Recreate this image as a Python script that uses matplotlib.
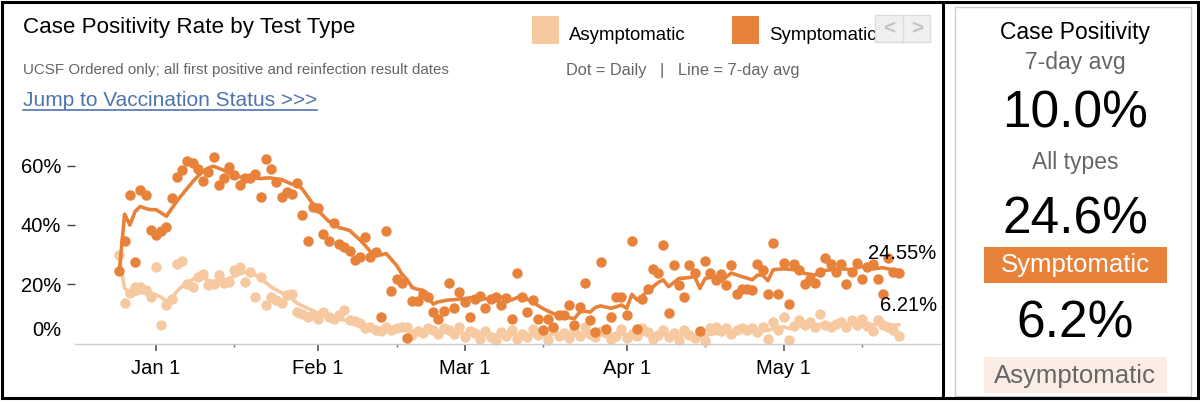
import matplotlib
matplotlib.use("Agg")
import matplotlib.pyplot as plt
import matplotlib.dates as mdates
from matplotlib.patches import Rectangle
from matplotlib.lines import Line2D
from matplotlib.ticker import FuncFormatter
import pandas as pd

plt.rcParams['font.family'] = ['Liberation Sans', 'DejaVu Sans']

# daily values, Dec 25 2021 .. May 23 2022
dates = pd.date_range("2021-12-25", periods=150, freq="D")

sym_daily = [24.3, 34.5, 50.1, 27.4, 51.6, 50.1, 38.3, 36.5, 37.8, 39.3,
             48.9, 56.2, 58.5, 61.5, 60.8, 58.8, 54.8, 57.9, 62.8, 53.4,
             55.7, 59.6, 56.8, 53.4, 55.7, 55.7, 57.0, 49.5, 62.2, 58.8,
             54.5, 49.5, 51.2, 50.3, 54.1, 43.3, 34.5, 46.1, 45.6, 36.8,
             34.5, 40.5, 33.4, 32.6, 31.1, 28.1, 29.2, 35.9, 29.2, 30.7,
             8.9, 37.8, 17.6, 21.6, 20.5, 1.8, 14.4, 14.1, 16.7, 15.5,
             10.7, 8.1, 11.0, 20.4, 11.8, 17.2, 13.8, 8.9, 14.9, 16.0,
             11.8, 14.9, 15.5, 12.9, 15.2, 8.3, 23.8, 15.5, 10.4, 14.6,
             8.3, 4.4, 8.3, 5.5, 9.5, 9.5, 12.9, 6.1, 12.1, 20.4,
             8.0, 3.9, 27.3, 4.7, 8.9, 15.5, 15.5, 9.5, 34.5, 4.7,
             14.9, 18.3, 25.1, 23.8, 33.2, 10.2, 26.4, 19.7, 15.5, 26.4,
             23.6, 4.0, 27.8, 23.8, 21.4, 23.3, 19.7, 26.4, 16.7, 18.3,
             18.3, 17.9, 26.6, 24.7, 16.5, 34.0, 16.5, 27.1, 13.4, 26.6,
             24.8, 20.0, 21.7, 20.5, 24.1, 28.7, 26.6, 24.0, 26.6, 20.0,
             24.0, 27.1, 21.8, 25.9, 26.6, 21.8, 16.6, 28.9, 24.2, 23.6]

sym_avg = [24.6, 43.6, 39.9, 44.5, 46.2, 45.5, 45.1, 45.1, 44.0, 42.9,
           45.5, 48.0, 50.2, 52.4, 54.5, 56.4, 58.0, 59.2, 59.8, 59.1,
           58.4, 57.5, 56.6, 56.2, 56.0, 55.8, 55.8, 55.6, 55.8, 55.8,
           55.5, 55.3, 54.5, 53.7, 53.7, 52.0, 49.5, 47.0, 44.8, 43.0,
           41.2, 40.5, 39.0, 38.6, 38.1, 36.5, 34.9, 33.0, 30.9, 30.2,
           29.8, 30.3, 28.3, 26.3, 23.4, 21.5, 18.8, 18.2, 17.9, 15.5,
           13.2, 14.0, 14.3, 14.6, 14.7, 14.9, 15.1, 15.3, 15.6, 15.3,
           15.0, 14.9, 15.3, 15.6, 15.0, 14.6, 15.4, 16.0, 14.8, 13.9,
           12.8, 11.7, 10.8, 10.0, 9.4, 8.9, 8.6, 8.3, 10.5, 10.8,
           10.5, 12.1, 12.6, 12.2, 11.8, 12.3, 12.9, 11.8, 16.5, 14.6,
           16.0, 17.6, 19.0, 20.5, 21.4, 19.1, 20.5, 21.9, 22.0, 22.2,
           22.5, 18.5, 21.9, 22.2, 22.5, 20.9, 22.3, 23.7, 23.1, 22.5,
           22.0, 21.4, 23.0, 23.0, 21.1, 24.8, 25.0, 25.1, 25.0, 24.8,
           24.2, 23.6, 23.3, 23.0, 24.3, 24.6, 24.8, 25.0, 25.1, 25.0,
           24.8, 25.4, 25.9, 25.5, 25.1, 25.3, 25.5, 25.1, 24.8, 24.55]

asym_daily = [29.8, 13.7, 16.8, 18.9, 18.9, 18.0, 15.7, 25.8, 6.3, 12.9,
              14.8, 26.9, 27.7, 19.9, 19.1, 22.5, 23.4, 19.7, 20.0, 23.0,
              20.2, 20.8, 24.7, 25.8, 20.8, 24.2, 15.7, 22.3, 12.9, 15.7,
              14.6, 13.7, 16.3, 16.7, 10.4, 9.9, 8.8, 9.5, 8.3, 10.5,
              8.8, 8.3, 9.5, 11.2, 7.9, 7.6, 6.9, 5.3, 5.5, 4.6,
              4.0, 5.5, 4.6, 5.1, 5.6, 5.6, 2.7, 4.0, 3.4, 5.1,
              4.6, 3.0, 5.2, 4.5, 3.1, 5.4, 2.2, 4.0, 3.5, 1.5,
              4.2, 2.0, 1.2, 3.8, 2.5, 4.4, 1.3, 3.0, 2.1, 4.7,
              2.8, 3.6, 1.0, 5.0, 2.4, 3.3, 1.8, 4.1, 2.6, 5.5,
              3.0, 2.1, 4.0, 3.5, 1.3, 2.6, 4.8, 1.9, 3.2, 2.4,
              5.0, 3.7, 1.5, 2.8, 4.3, 2.0, 3.4, 1.2, 4.6, 2.9,
              1.8, 3.6, 0.8, 5.0, 5.4, 4.0, 5.2, 3.0, 4.6, 5.2,
              4.3, 5.1, 3.9, 5.6, 1.3, 7.2, 4.5, 8.9, 1.0, 5.9,
              7.8, 6.0, 7.0, 5.4, 9.7, 6.0, 5.5, 6.5, 7.0, 5.5,
              7.8, 6.0, 8.1, 5.7, 4.2, 7.7, 6.2, 5.5, 4.4, 2.3]

asym_avg = [28.8, 18.6, 17.0, 16.5, 17.0, 17.5, 17.0, 16.4, 15.5, 14.2,
            15.3, 17.5, 19.2, 20.4, 21.5, 22.6, 22.0, 21.2, 20.8, 21.2,
            21.5, 21.9, 22.6, 23.4, 24.0, 24.2, 23.0, 22.0, 20.5, 19.0,
            18.0, 17.0, 16.4, 15.0, 13.5, 12.6, 11.8, 11.0, 10.2, 9.7,
            9.0, 8.5, 8.1, 7.8, 7.4, 7.0, 6.5, 6.0, 5.6, 5.0,
            4.6, 4.5, 4.5, 4.5, 4.4, 4.3, 4.1, 4.0, 3.9, 3.9,
            3.8, 3.7, 3.8, 3.6, 3.5, 3.6, 3.3, 3.2, 3.3, 3.0,
            3.1, 2.9, 2.7, 2.8, 2.7, 2.9, 2.6, 2.7, 2.6, 2.8,
            2.9, 3.0, 2.7, 3.0, 3.1, 3.0, 2.8, 2.9, 3.0, 3.3,
            3.2, 3.1, 3.1, 3.2, 3.0, 2.9, 3.1, 2.9, 3.0, 2.8,
            3.1, 3.2, 3.0, 2.9, 3.0, 2.8, 2.9, 2.7, 2.8, 2.9,
            2.7, 2.8, 2.6, 3.0, 3.3, 3.4, 3.8, 3.7, 4.0, 4.2,
            4.3, 4.6, 4.4, 4.7, 4.3, 5.0, 4.9, 5.6, 5.0, 5.4,
            5.8, 5.6, 6.0, 6.0, 6.4, 6.5, 6.3, 6.5, 6.6, 6.3,
            6.6, 6.5, 6.8, 6.5, 6.2, 6.4, 6.4, 6.3, 6.1, 6.21]

yticks = [20, 40, 60]
summary_all = "10.0%"
summary_sym = "24.6%"
summary_asym = "6.2%"

SYM = "#e8823a"
ASYM = "#f6c9a1"
W, H = 1200, 404


def fx(x):
    return x / W


def fy(y):
    return 1 - y / H


fig = plt.figure(figsize=(12, 4.04), dpi=100)

# plot area, positioned in pixels
ax_l, ax_r, ax_t, ax_b = 75, 940, 141.9, 344.1
ax = fig.add_axes([fx(ax_l), fy(ax_b), (ax_r - ax_l) / W, (ax_b - ax_t) / H])

jan1 = mdates.date2num(pd.Timestamp("2022-01-01"))
px_day = 5.23
ax.set_xlim(jan1 - (156 - ax_l) / px_day, jan1 + (ax_r - 156) / px_day)
ax.set_ylim(-0.3, 68)

ax.plot(dates, asym_daily, 'o', color=ASYM, ms=7.5, mew=0, zorder=2, clip_on=False)
ax.plot(dates, asym_avg, '-', color=ASYM, lw=2.6, zorder=3)
ax.plot(dates, sym_daily, 'o', color=SYM, ms=7.5, mew=0, zorder=4, clip_on=False)
ax.plot(dates, sym_avg, '-', color=SYM, lw=2.6, zorder=5)

ax.annotate(f"{sym_avg[-1]:.2f}%", xy=(dates[-1], sym_avg[-1]), xytext=(38, 17),
            textcoords='offset pixels', ha='right', va='center', fontsize=14.5, zorder=6)
ax.annotate(f"{asym_avg[-1]:.2f}%", xy=(dates[-1], asym_avg[-1]), xytext=(38, 19),
            textcoords='offset pixels', ha='right', va='center', fontsize=14.5, zorder=6)

for s in ['top', 'right', 'left']:
    ax.spines[s].set_visible(False)
ax.spines['bottom'].set_color('#cccccc')
ax.spines['bottom'].set_linewidth(1)

ax.set_yticks(yticks)
ax.yaxis.set_major_formatter(FuncFormatter(lambda v, p: f"{v:.0f}%"))
ax.tick_params(axis='y', length=6, width=1, color='#444444', pad=4, labelsize=14.5)
ax.text(-0.0154, 4.4, "0%", transform=ax.get_yaxis_transform(), ha='right',
        va='center', fontsize=14.5)

ax.xaxis.set_major_locator(mdates.MonthLocator(bymonthday=1))
ax.xaxis.set_minor_locator(mdates.MonthLocator(bymonthday=16))
ax.xaxis.set_major_formatter(FuncFormatter(
    lambda v, p: mdates.num2date(v).strftime("%b ") + str(mdates.num2date(v).day)))
ax.tick_params(axis='x', which='major', length=5, width=1.2, color='#555555',
               pad=6, labelsize=14.5)
ax.tick_params(axis='x', which='minor', length=2, width=1, color='#777777')

# header
fig.text(fx(23), fy(27), "Case Positivity Rate by Test Type", fontsize=16.1,
         ha='left', va='center')
fig.text(fx(23), fy(70), "UCSF Ordered only; all first positive and reinfection result dates",
         fontsize=10.9, color='#666666', ha='left', va='center')
fig.text(fx(566), fy(70), "Dot = Daily   |   Line = 7-day avg", fontsize=11.8,
         color='#666666', ha='left', va='center')
fig.text(fx(23), fy(100), "Jump to Vaccination Status >>>", fontsize=15,
         color='#4f74ad', ha='left', va='center')
fig.add_artist(Line2D([fx(23), fx(317)], [fy(110), fy(110)], color='#4f74ad', lw=1.2))

# legend
fig.add_artist(Rectangle((fx(532), fy(44)), 27 / W, 28 / H, fc=ASYM, ec='none'))
fig.text(fx(569), fy(36), "Asymptomatic", fontsize=13.4, ha='left', va='center')
fig.add_artist(Rectangle((fx(732), fy(44)), 27 / W, 28 / H, fc=SYM, ec='none'))
fig.text(fx(769), fy(36), "Symptomatic", fontsize=13.4, ha='left', va='center')
fig.add_artist(Rectangle((fx(875), fy(42)), 55 / W, 27 / H, fc='#f0f0f0',
                         ec='#dddddd', lw=1, zorder=5))
fig.add_artist(Line2D([fx(903), fx(903)], [fy(15), fy(42)], color='#dddddd', lw=1, zorder=6))
fig.text(fx(889), fy(29), "<", fontsize=15, color='#c4c4c4', ha='center', va='center',
         weight='bold', zorder=7)
fig.text(fx(917), fy(29), ">", fontsize=15, color='#c4c4c4', ha='center', va='center',
         weight='bold', zorder=7)

# right summary panel
cx = fx(1075)
fig.add_artist(Rectangle((fx(955), fy(396)), 236 / W, 389 / H, fc='none',
                         ec='#cccccc', lw=1))
fig.text(cx, fy(32), "Case Positivity", fontsize=16.5, ha='center', va='center')
fig.text(cx, fy(62), "7-day avg", fontsize=16.5, color='#666666', ha='center', va='center')
fig.text(cx, fy(114), summary_all, fontsize=37, ha='center', va='center')
fig.text(cx, fy(163), "All types", fontsize=16.5, color='#666666', ha='center', va='center')
fig.text(cx, fy(220), summary_sym, fontsize=37, ha='center', va='center')
fig.add_artist(Rectangle((fx(984), fy(283)), 183 / W, 36 / H, fc=SYM, ec='none'))
fig.text(cx, fy(265), "Symptomatic", fontsize=18.5, color='white', ha='center', va='center')
fig.text(cx, fy(324), summary_asym, fontsize=37, ha='center', va='center')
fig.add_artist(Rectangle((fx(984), fy(393)), 183 / W, 36 / H, fc='#fbede3', ec='none'))
fig.text(cx, fy(376), "Asymptomatic", fontsize=18.5, color='#666666', ha='center', va='center')

# outer frame and divider
fig.add_artist(Rectangle((fx(1.5), fy(397.5)), 1196 / W, 396 / H, fc='none',
                         ec='black', lw=2.2))
fig.add_artist(Line2D([fx(943), fx(943)], [fy(1.5), fy(397.5)], color='black', lw=2.2))

fig.savefig("out.png", dpi=100)
